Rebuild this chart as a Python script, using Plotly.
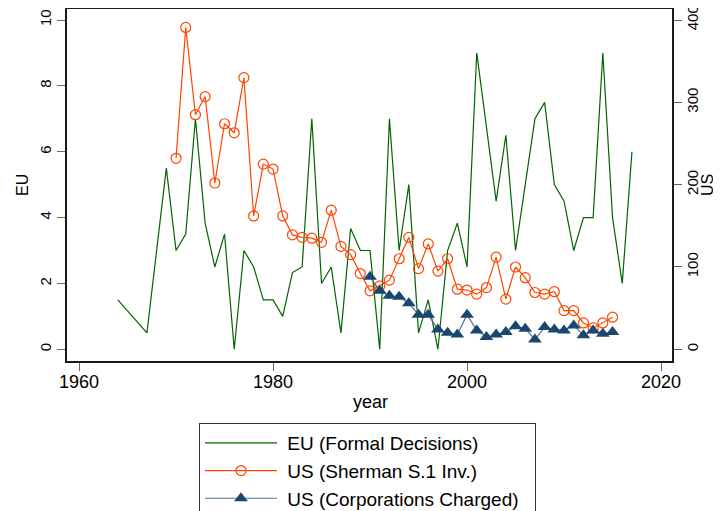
import plotly.graph_objects as go

# EU formal decisions (left axis)
eu_years = [1964, 1967, 1969, 1970, 1971, 1972, 1973, 1974, 1975, 1976, 1977, 1978, 1979,
            1980, 1981, 1982, 1983, 1984, 1985, 1986, 1987, 1988, 1989, 1990, 1991, 1992,
            1993, 1994, 1995, 1996, 1997, 1998, 1999, 2000, 2001, 2002, 2003, 2004, 2005,
            2006, 2007, 2008, 2009, 2010, 2011, 2012, 2013, 2014, 2015, 2016, 2017]
eu_values = [1.5, 0.5, 5.5, 3.0, 3.5, 7.0, 3.83, 2.5, 3.5, 0.0, 3.0, 2.5, 1.5,
             1.5, 1.0, 2.33, 2.5, 7.0, 2.0, 2.5, 0.5, 3.67, 3.0, 3.0, 0.0, 7.0,
             3.0, 5.0, 0.5, 1.5, 0.0, 3.0, 3.83, 2.5, 9.0, 6.75, 4.5, 6.5, 3.0,
             5.0, 7.0, 7.5, 5.0, 4.5, 3.0, 4.0, 4.0, 9.0, 4.0, 2.0, 6.0]

# US Sherman S.1 investigations (right axis)
sh_years = list(range(1970, 2016))
sh_values = [232, 391, 285, 307, 202, 274, 263, 330, 162, 225, 219, 162, 139,
             136, 135, 130, 169, 125, 115, 92, 71, 77, 84, 110, 136, 98, 128,
             95, 110, 73, 72, 67, 75, 112, 61, 100, 87, 69, 67, 70, 47, 47,
             32, 26, 32, 39]

# US corporations charged (right axis)
cc_years = list(range(1990, 2016))
cc_values = [88, 71, 65, 64, 56, 42, 42, 24, 20, 18, 42, 23, 15, 18, 21, 28,
             25, 12, 27, 24, 23, 29, 17, 23, 19, 21]

FONT = "Liberation Sans, Arial, sans-serif"
FS = 18      # horizontal text
FSV = 15     # rotated tick labels
NB = "\u00a0"

fig = go.Figure()
fig.add_trace(go.Scatter(
    x=eu_years, y=eu_values, mode="lines", name=NB + "EU (Formal Decisions)",
    line=dict(color="#006400", width=1.2), yaxis="y", legendgroup="a"))
fig.add_trace(go.Scatter(
    x=sh_years, y=sh_values, mode="lines+markers", name=NB + "US (Sherman S.1 Inv.)",
    line=dict(color="#ff4500", width=1.2),
    marker=dict(symbol="circle-open", size=10, color="#ff4500", line=dict(width=1.2)),
    yaxis="y2", legendgroup="b"))
fig.add_trace(go.Scatter(
    x=cc_years, y=cc_values, mode="lines+markers",
    name=NB + "US (Corporations Charged)" + NB * 2,
    line=dict(color="#4f6f8f", width=1.2),
    marker=dict(symbol="triangle-up", size=12, color="#1a476f"),
    yaxis="y2", legendgroup="c"))

axis_common = dict(
    showgrid=False, zeroline=False, showline=True, linecolor="#1a1a1a", linewidth=1.8,
    ticks="outside", ticklen=8, tickcolor="#666666", tickwidth=1.2, automargin=False,
    ticklabeloverflow="allow",
)

# page body has an 8px margin, so the figure is shifted by 8px
W, H = 713, 503
L, R, T, B = 59, 49, 1, 150
pw = W - L - R
ph = H - T - B
OFF = 8


def px(xw):
    return (xw - OFF - L) / pw


def py(yw):
    return (H - B - (yw - OFF)) / ph


fig.update_layout(
    width=W, height=H,
    margin=dict(l=L, r=R, t=T, b=B, autoexpand=False),
    paper_bgcolor="white", plot_bgcolor="white",
    font=dict(family=FONT, size=FS, color="black"),
    xaxis=dict(range=[1958.76, 2021.13], tickvals=[1960, 1980, 2000, 2020],
               mirror=True, tickfont=dict(family=FONT, size=FS, color="black"),
               ticklabelstandoff=-5,
               **axis_common),
    yaxis=dict(range=[-0.355, 10.334], tickvals=[0, 2, 4, 6, 8, 10], tickangle=-90,
               tickfont=dict(family=FONT, size=FSV, color="black"),
               **axis_common),
    yaxis2=dict(range=[-14.2, 413.4], tickvals=[0, 100, 200, 300, 400], tickangle=-90,
                overlaying="y", side="right", ticklabelstandoff=-2,
                tickfont=dict(family=FONT, size=FSV, color="black"),
                **axis_common),
    annotations=[
        dict(text="US", xref="paper", yref="paper", x=px(707), y=py(185),
             xanchor="center", yanchor="middle", textangle=-90, showarrow=False,
             font=dict(family=FONT, size=16)),
        dict(text="EU", xref="paper", yref="paper", x=px(22), y=py(185),
             xanchor="center", yanchor="middle", textangle=-90, showarrow=False,
             font=dict(family=FONT, size=16)),
        dict(text="year", xref="paper", yref="paper", x=px(370), y=py(402),
             xanchor="center", yanchor="middle", showarrow=False,
             font=dict(family=FONT, size=FS)),
    ],
    legend=dict(orientation="v", x=px(199), xanchor="left",
                y=py(423), yanchor="top",
                bordercolor="#333333", borderwidth=1, bgcolor="white",
                font=dict(family=FONT, size=19), itemwidth=72, tracegroupgap=0,
                traceorder="normal"),
    showlegend=True,
)

fig.write_html("out.html")
